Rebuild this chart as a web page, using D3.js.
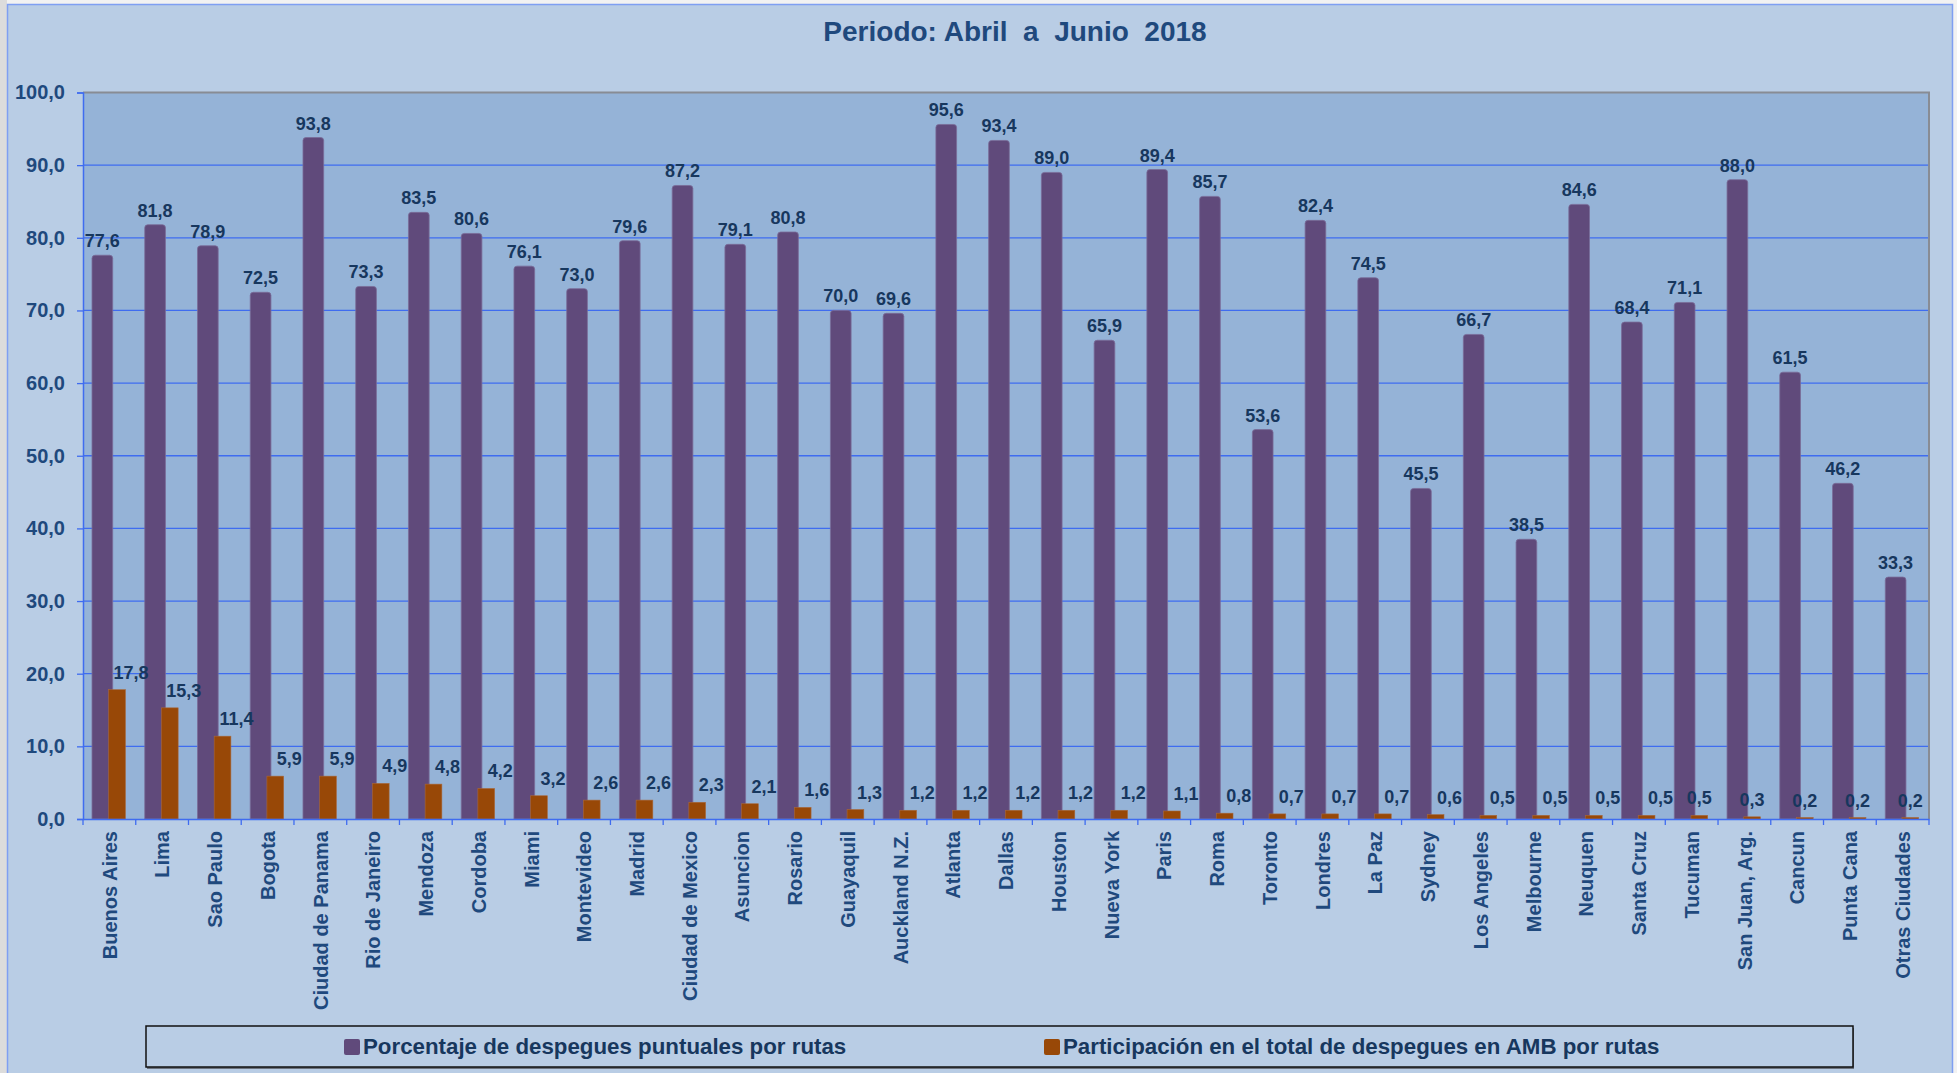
<!DOCTYPE html>
<html>
<head>
<meta charset="utf-8">
<script src="https://cdn.jsdelivr.net/npm/d3@7"></script>
<style>
  html, body { margin: 0; padding: 0; background: #f2f2f2; }
  svg { display: block; font-family: "Liberation Sans", Arial, sans-serif; }
</style>
</head>
<body>
<svg id="chart" width="1957" height="1073"></svg>
<script>
const title = "Periodo: Abril  a  Junio  2018";
const categories = ["Buenos Aires","Lima","Sao Paulo","Bogota","Ciudad de Panama","Rio de Janeiro","Mendoza","Cordoba","Miami","Montevideo","Madrid","Ciudad de Mexico","Asuncion","Rosario","Guayaquil","Auckland N.Z.","Atlanta","Dallas","Houston","Nueva York","Paris","Roma","Toronto","Londres","La Paz","Sydney","Los Angeles","Melbourne","Neuquen","Santa Cruz","Tucuman","San Juan, Arg.","Cancun","Punta Cana","Otras Ciudades"];
const puntuales = [77.6,81.8,78.9,72.5,93.8,73.3,83.5,80.6,76.1,73.0,79.6,87.2,79.1,80.8,70.0,69.6,95.6,93.4,89.0,65.9,89.4,85.7,53.6,82.4,74.5,45.5,66.7,38.5,84.6,68.4,71.1,88.0,61.5,46.2,33.3];
const participacion = [17.8,15.3,11.4,5.9,5.9,4.9,4.8,4.2,3.2,2.6,2.6,2.3,2.1,1.6,1.3,1.2,1.2,1.2,1.2,1.2,1.1,0.8,0.7,0.7,0.7,0.6,0.5,0.5,0.5,0.5,0.5,0.3,0.2,0.2,0.2];
const yTicks = [0,10,20,30,40,50,60,70,80,90,100];
const seriesNames = ["Porcentaje de despegues puntuales por rutas","Participación en el total de despegues en AMB por rutas"];

const C_PURPLE = "#604a7b", C_ORANGE = "#984807", C_TEXT = "#17375e", C_AXIS = "#1f497d";
const C_GRID = "#3f6cf0";

const svg = d3.select("#chart");
const fmt = d3.formatLocale({decimal: ",", thousands: ".", grouping: [3], currency: ["", ""]}).format(".1f");

// outer frame
svg.append("rect").attr("x", 0).attr("y", 0).attr("width", 1957).attr("height", 1073).attr("fill", "#f2f2f2");
svg.append("rect").attr("x", 0).attr("y", 0).attr("width", 7).attr("height", 1073).attr("fill", "#dcdcdc");
svg.append("rect").attr("x", 7.5).attr("y", 4.5).attr("width", 1945).attr("height", 1080)
  .attr("fill", "#b9cde5").attr("stroke", "#7f9ff2").attr("stroke-width", 1.5);

const m = {left: 83, right: 1929, top: 92.5, bottom: 819};
const x = d3.scaleBand().domain(categories).range([m.left, m.right]).padding(0);
const y = d3.scaleLinear().domain([0, 100]).range([m.bottom, m.top]);
const bw = x.bandwidth();

// plot area
svg.append("rect").attr("x", m.left).attr("y", m.top).attr("width", m.right - m.left).attr("height", m.bottom - m.top)
  .attr("fill", "#95b3d7");

// gridlines
svg.append("g").selectAll("line").data(yTicks.filter(t => t > 0 && t < 100)).join("line")
  .attr("x1", m.left).attr("x2", m.right).attr("y1", d => y(d)).attr("y2", d => y(d))
  .attr("stroke", C_GRID).attr("stroke-width", 1.3);

// plot border top/right
svg.append("path").attr("d", `M${m.left},${m.top}H${m.right}V${m.bottom}`)
  .attr("fill", "none").attr("stroke", "#888c94").attr("stroke-width", 2);

// bars
const rTop = (x0, y0, w, h, r) => {
  r = Math.min(r, h, w / 2);
  return `M${x0},${y0 + h}V${y0 + r}Q${x0},${y0} ${x0 + r},${y0}H${x0 + w - r}Q${x0 + w},${y0} ${x0 + w},${y0 + r}V${y0 + h}Z`;
};
const pOff = bw * 0.171, pW = bw * 0.392;
const oOff = bw * 0.487, oW = bw * 0.317;

svg.append("g").selectAll("path").data(categories).join("path")
  .attr("d", (c, i) => rTop(x(c) + pOff, y(puntuales[i]), pW, y(0) - y(puntuales[i]), 3))
  .attr("fill", C_PURPLE).attr("stroke", "#7a6c98").attr("stroke-width", 0.8);

svg.append("g").selectAll("rect").data(categories).join("rect")
  .attr("x", c => x(c) + oOff).attr("y", (c, i) => y(participacion[i]))
  .attr("width", oW).attr("height", (c, i) => y(0) - y(participacion[i]))
  .attr("fill", C_ORANGE).attr("stroke", "#a8683a").attr("stroke-width", 0.6);

// y axis
const yAxis = svg.append("g").attr("transform", `translate(${m.left},0)`)
  .call(d3.axisLeft(y).tickValues(yTicks).tickSize(6).tickPadding(12).tickFormat(fmt));
yAxis.select(".domain").attr("stroke", C_GRID).attr("stroke-width", 1.5);
yAxis.selectAll(".tick line").attr("stroke", C_GRID).attr("stroke-width", 1.3);
yAxis.selectAll(".tick text").attr("fill", C_AXIS).attr("font-size", 20).attr("font-weight", "bold")
  .attr("font-family", "'Liberation Sans', Arial, sans-serif");

// x axis
const xAxis = svg.append("g").attr("transform", `translate(0,${m.bottom})`)
  .call(d3.axisBottom(x).tickSize(0).tickFormat(""));
xAxis.select(".domain").attr("stroke", C_GRID).attr("stroke-width", 1.5);
const edges = categories.map(c => x(c)).concat([m.right]);
svg.append("g").selectAll("line").data(edges).join("line")
  .attr("x1", d => d).attr("x2", d => d).attr("y1", m.bottom).attr("y2", m.bottom + 6)
  .attr("stroke", C_GRID).attr("stroke-width", 1.3);

svg.append("g").selectAll("text").data(categories).join("text")
  .attr("transform", c => `translate(${x(c) + bw / 2},${m.bottom + 12}) rotate(-90)`)
  .attr("text-anchor", "end").attr("dy", "0.36em")
  .attr("fill", C_AXIS).attr("font-size", 20).attr("font-weight", "bold")
  .text(c => c);

// value labels
svg.append("g").selectAll("text").data(categories).join("text")
  .attr("x", c => x(c) + pOff + pW / 2).attr("y", (c, i) => y(puntuales[i]) - 8)
  .attr("text-anchor", "middle").attr("fill", C_TEXT).attr("font-size", 18).attr("font-weight", "bold")
  .text((c, i) => fmt(puntuales[i]));

svg.append("g").selectAll("text").data(categories).join("text")
  .attr("x", (c, i) => x(c) + oOff + oW / 2 + (i < 30 ? 14 : 0))
  .attr("y", (c, i) => y(participacion[i]) - 11)
  .attr("text-anchor", "middle").attr("fill", C_TEXT).attr("font-size", 18).attr("font-weight", "bold")
  .text((c, i) => fmt(participacion[i]));

// title
svg.append("text").attr("x", 1015).attr("y", 41).attr("text-anchor", "middle")
  .attr("fill", C_AXIS).attr("font-size", 28).attr("font-weight", "bold")
  .style("white-space", "pre").text(title);

// legend
const lg = svg.append("g");
lg.append("rect").attr("x", 147).attr("y", 1028).attr("width", 1707).attr("height", 41).attr("fill", "#6d7480");
lg.append("rect").attr("x", 146).attr("y", 1026).attr("width", 1707).attr("height", 41)
  .attr("fill", "#b9cde5").attr("stroke", "#111").attr("stroke-width", 1.5);
const items = [
  {name: seriesNames[0], color: C_PURPLE, sx: 344, tx: 363},
  {name: seriesNames[1], color: C_ORANGE, sx: 1044, tx: 1063}
];
items.forEach(it => {
  lg.append("rect").attr("x", it.sx).attr("y", 1039).attr("width", 16).attr("height", 16).attr("rx", 2)
    .attr("fill", it.color);
  lg.append("text").attr("x", it.tx).attr("y", 1054).attr("fill", C_TEXT)
    .attr("font-size", 22.3).attr("font-weight", "bold").text(it.name);
});
</script>
</body>
</html>
